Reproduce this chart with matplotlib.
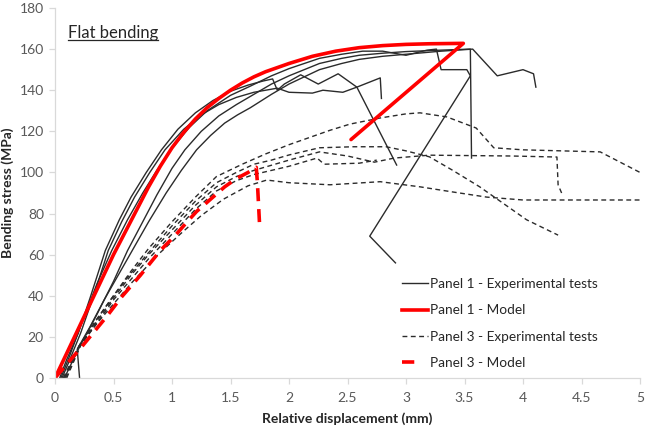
import matplotlib
matplotlib.use("Agg")
import matplotlib.pyplot as plt
from matplotlib.lines import Line2D

# ---------------- data ----------------
x_ticks = [0, 0.5, 1, 1.5, 2, 2.5, 3, 3.5, 4, 4.5, 5]
x_tick_labels = ["0", "0.5", "1", "1.5", "2", "2.5", "3", "3.5", "4", "4.5", "5"]
y_ticks = [0, 20, 40, 60, 80, 100, 120, 140, 160, 180]

# Panel 1 - experimental tests (solid black)
p1_exp1_x = [0.04, 0.1, 0.2, 0.3, 0.43, 0.55, 0.65, 0.78, 0.91, 1.05, 1.2, 1.35, 1.5, 1.65, 1.78, 1.86,
             1.9, 1.96, 2.1, 2.25, 2.42, 2.58, 2.92]
p1_exp1_y = [0, 9, 22, 39, 62, 77, 88, 100, 111, 121, 129, 135, 139.5, 142.5, 144.5, 145.5,
             140, 143, 147.5, 143, 148, 141.5, 103.6]

p1_exp2_x = [0.06, 0.12, 0.22, 0.33, 0.455, 0.57, 0.68, 0.81, 0.94, 1.1, 1.25, 1.4, 1.55, 1.7, 1.9,
             2.0, 2.2, 2.29, 2.46, 2.58, 2.78, 2.79]
p1_exp2_y = [0, 8, 22, 40, 62, 76, 88, 100, 111, 121, 128, 133, 136.5, 139, 141,
             139, 138.6, 140, 139, 141.5, 146, 136]

p1_exp3_x = [0.05, 0.12, 0.25, 0.36, 0.485, 0.62, 0.75, 0.87, 0.99, 1.15, 1.3, 1.5, 1.67, 1.85, 2.0,
             2.26, 2.45, 2.63, 2.8, 3.0, 3.18, 3.26, 3.3, 3.52, 3.55, 2.69, 2.91]
p1_exp3_y = [0, 10, 30, 46, 62, 77, 90, 101, 111, 122, 130, 137.5, 142, 147, 150.5,
             155.5, 157.5, 159, 159, 157, 159.5, 160, 150, 150, 147, 69, 56]

p1_exp4_x = [0.08, 0.2, 0.35, 0.5, 0.62, 0.75, 0.87, 1.0, 1.11, 1.25, 1.4, 1.55, 1.67, 1.85, 2.0,
             2.26, 2.45, 2.6, 2.8, 3.0, 3.3, 3.55, 3.56]
p1_exp4_y = [0, 14, 30, 47, 62, 76, 89, 102, 111, 120, 127.5, 133, 137, 143, 147,
             153, 155.5, 157, 158, 158.8, 159.5, 160, 107]

p1_exp5_x = [0.21, 0.19, 0.3, 0.42, 0.54, 0.66, 0.8, 0.95, 1.08, 1.21, 1.33, 1.45, 1.56, 1.67, 1.85,
             2.0, 2.26, 2.45, 2.6, 2.8, 3.0, 3.3, 3.57, 3.78, 4.0, 4.09, 4.11]
p1_exp5_y = [0, 14, 25, 38, 50, 62, 76, 90, 101, 111, 118, 124, 128, 131.5, 138,
             143, 150, 153, 155, 156.5, 157.5, 159, 160, 147, 150, 148, 141.5]

# Panel 1 - model (solid red)
p1_model_x = [0, 0.1, 0.2, 0.3, 0.4, 0.5, 0.6, 0.7, 0.8, 0.9, 1.0, 1.1, 1.2, 1.3, 1.4, 1.5, 1.6,
              1.7, 1.8, 1.9, 2.0, 2.2, 2.4, 2.6, 2.8, 3.0, 3.2, 3.49, 2.53]
p1_model_y = [0, 12, 24, 36, 48, 60, 71, 82, 93, 103, 112, 119.5, 126, 131.5, 136, 140, 143.5,
              146.5, 149, 151, 153, 156.5, 159, 160.7, 161.7, 162.3, 162.6, 162.8, 116]

# Panel 3 - experimental tests (dashed black)
p3_exp1_x = [0.07, 0.2, 0.35, 0.5, 0.65, 0.8, 1.0, 1.2, 1.38, 1.6, 1.8, 2.0, 2.2, 2.35, 2.52, 2.78,
             3.0, 3.12, 3.35, 3.6, 3.75, 4.0, 4.66, 5.0]
p3_exp1_y = [0, 15, 28, 40, 52, 63, 76, 88, 98, 104, 109, 113.5, 117.5, 120.5, 123.5, 126.5,
             128.5, 129, 127, 121.6, 112, 111, 110, 100]

p3_exp2_x = [0.08, 0.21, 0.35, 0.5, 0.65, 0.8, 1.0, 1.2, 1.38, 1.55, 1.7, 1.85, 2.0, 2.26, 2.55,
             2.83, 3.0, 3.2, 3.4, 3.63, 4.03, 4.3]
p3_exp2_y = [0, 16, 28, 40, 51, 61, 74, 86, 95, 100, 104, 106, 108.5, 112, 112.5,
             112.5, 110.5, 107.6, 101, 93, 77, 69.5]

p3_exp3_x = [0.1, 0.22, 0.35, 0.5, 0.65, 0.8, 1.0, 1.2, 1.38, 1.55, 1.7, 1.85, 2.0, 2.26, 2.5,
             2.73, 2.9, 3.2, 3.9, 4.29, 4.3, 4.33]
p3_exp3_y = [0, 16, 27, 39, 50, 60, 72, 84, 93, 98, 101, 103.5, 106, 110, 108,
             105, 107, 108.4, 108, 107.5, 94, 90]

p3_exp4_x = [0.09, 0.22, 0.35, 0.5, 0.65, 0.8, 1.0, 1.2, 1.38, 1.55, 1.7, 1.85, 2.0, 2.24, 2.3,
             2.6, 2.75]
p3_exp4_y = [0, 16, 26, 38, 48, 58, 70, 82, 91, 96, 99, 101, 103, 107, 104,
             104.5, 106]

p3_exp5_x = [0.2, 0.35, 0.5, 0.65, 0.88, 1.07, 1.25, 1.44, 1.65, 1.81, 2.0, 2.35, 2.78, 3.12, 3.4,
             3.69, 4.0, 5.0]
p3_exp5_y = [15, 26, 36, 46, 60, 70, 79, 87, 93.5, 96.3, 95, 94, 95.5, 93, 90.5,
             88, 86.6, 86.6]

# Panel 3 - model (dashed red)
p3_model_x = [0, 0.24, 0.44, 0.57, 0.73, 0.9, 1.03, 1.13, 1.21, 1.33, 1.45, 1.55, 1.65, 1.72, 1.73, 1.75]
p3_model_y = [0, 16, 29.8, 39.5, 50, 62, 69.5, 76, 81, 87, 93, 97, 100, 102.5, 95, 73]

# ---------------- styling ----------------
plt.rcParams['font.family'] = ['Lato', 'DejaVu Sans']
BLACK = '#2b2b2b'
RED = '#ff0000'
GREY_TXT = '#595959'
GREY_AX = '#d9d9d9'
DASH_BLACK = (0, (3.5, 2.5))
DASH_RED = (0, (3.6, 2.2))

fig = plt.figure(figsize=(6.46, 4.28), dpi=100)
ax = fig.add_axes([55/646, 50/428, 585/646, 370/428])

solid_kw = dict(color=BLACK, lw=1.0, solid_joinstyle='round')
dash_kw = dict(color=BLACK, lw=1.0, linestyle=DASH_BLACK)

for xs, ys in [(p1_exp1_x, p1_exp1_y), (p1_exp2_x, p1_exp2_y), (p1_exp3_x, p1_exp3_y),
               (p1_exp4_x, p1_exp4_y), (p1_exp5_x, p1_exp5_y)]:
    ax.plot(xs, ys, **solid_kw)

for xs, ys in [(p3_exp1_x, p3_exp1_y), (p3_exp2_x, p3_exp2_y), (p3_exp3_x, p3_exp3_y),
               (p3_exp4_x, p3_exp4_y), (p3_exp5_x, p3_exp5_y)]:
    ax.plot(xs, ys, **dash_kw)

ax.plot(p1_model_x, p1_model_y, color=RED, lw=2.6, solid_capstyle='round', solid_joinstyle='round')
ax.plot(p3_model_x, p3_model_y, color=RED, lw=2.6, linestyle=DASH_RED)

ax.set_xlim(0, 5)
ax.set_ylim(0, 180)
ax.set_xticks(x_ticks)
ax.set_xticklabels(x_tick_labels)
ax.set_yticks(y_ticks)

for s in ['top', 'right']:
    ax.spines[s].set_visible(False)
for s in ['left', 'bottom']:
    ax.spines[s].set_color(GREY_AX)
    ax.spines[s].set_linewidth(0.9)
ax.tick_params(axis='both', colors=GREY_AX, labelcolor=GREY_TXT, labelsize=10,
               length=4, width=0.9, direction='out')
ax.tick_params(axis='x', pad=6)
ax.tick_params(axis='y', pad=4)

ax.set_xlabel('Relative displacement (mm)', fontsize=10, fontweight='bold', color='#262626', labelpad=6)
ax.set_ylabel('Bending stress (MPa)', fontsize=10, fontweight='bold', color='#262626', labelpad=4)

# Title inside plot, underlined
t = ax.text(0.022, 0.92, 'Flat bending', transform=ax.transAxes, fontsize=12,
            color='#262626', ha='left', va='baseline')
fig.canvas.draw()
bb = t.get_window_extent(renderer=fig.canvas.get_renderer())
inv = fig.transFigure.inverted()
(x0, y0), (x1, y1) = inv.transform([(bb.x0, bb.y0), (bb.x1, bb.y1)])
fig.add_artist(Line2D([x0, x1], [y0 + 0.001, y0 + 0.001], transform=fig.transFigure,
                      color='#262626', lw=0.9))

handles = [
    Line2D([], [], color=BLACK, lw=1.0),
    Line2D([], [], color=RED, lw=2.6),
    Line2D([], [], color=BLACK, lw=1.0, linestyle=DASH_BLACK),
    Line2D([], [], color=RED, lw=2.6, linestyle=(0, (3.4, 5.0))),
]
labels = ['Panel 1 - Experimental tests', 'Panel 1 - Model',
          'Panel 3 - Experimental tests', 'Panel 3 - Model']
leg = ax.legend(handles, labels, loc='upper left', bbox_to_anchor=(0.594, 0.27),
                frameon=False, fontsize=9.8, handlelength=1.9, handletextpad=0.12,
                labelspacing=1.05, borderpad=0, borderaxespad=0)
for txt in leg.get_texts():
    txt.set_color('#262626')

fig.savefig('out.png', dpi=100)
